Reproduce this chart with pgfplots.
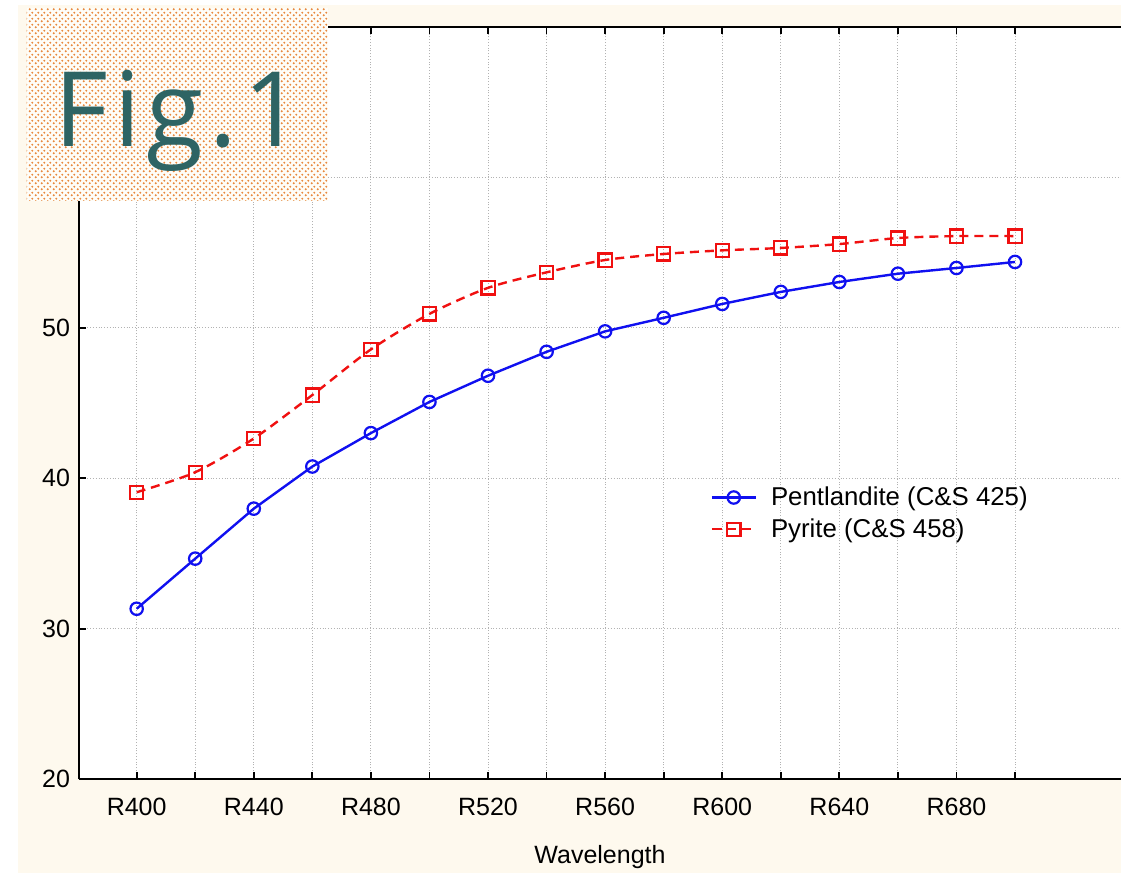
\documentclass[border=0pt]{standalone}
\usepackage{fontspec}
\setmainfont{Liberation Sans}
\newfontfamily\figfont{Open Sans}[LetterSpace=6]
\usepackage{pgfplots}
\pgfplotsset{compat=1.18}
\usetikzlibrary{patterns}

\definecolor{cream}{HTML}{FEF9EE}
\definecolor{dotorange}{HTML}{E8893E}
\definecolor{figteal}{HTML}{2E6464}
\definecolor{pblue}{HTML}{1010F0}
\definecolor{pred}{HTML}{F01010}

% staggered dots, a little larger than the built-in crosshatch dots
\pgfdeclarepatternformonly{bigdots}{\pgfpoint{-1pt}{-1pt}}{\pgfpoint{2pt}{2pt}}{\pgfpoint{3pt}{3pt}}{%
  \pgfpathcircle{\pgfpoint{0pt}{0pt}}{0.62pt}
  \pgfpathcircle{\pgfpoint{1.5pt}{1.5pt}}{0.62pt}
  \pgfusepath{fill}}

\begin{document}
\begin{tikzpicture}
  % page is 1121 x 873 px, 1px = 0.5pt
  \path[use as bounding box, fill=white] (0,0) rectangle (560.5pt,436.5pt);
  \fill[cream] (9pt,0) rectangle (560.5pt,434pt);

  \begin{axis}[
      at={(39.5pt,46.85pt)}, anchor=south west,
      scale only axis,
      width=521pt, height=376.3pt,
      axis background/.style={fill=white},
      xmin=-0.985, xmax=16.81,
      ymin=20, ymax=70,
      axis x line=box, axis y line=left,
      axis line style={-, line width=1pt, black},
      xtick={0,...,15},
      xticklabels={R400,,R440,,R480,,R520,,R560,,R600,,R640,,R680,},
      ytick={20,30,40,50,60,70},
      yticklabels={20,30,40,50,,},
      tick align=inside,
      major tick length=3.5pt,
      tick style={line width=0.9pt, black},
      grid=major,
      grid style={densely dotted, gray!60, line width=0.45pt},
      ticklabel style={font=\fontsize{12.5}{15}\selectfont},
      /pgf/number format/assume math mode=true,
      xticklabel style={yshift=-6pt},
      yticklabel style={xshift=-1pt},
      xlabel={Wavelength},
      xlabel style={font=\fontsize{12.5}{15}\selectfont, yshift=-8pt},
      legend style={at={(0.6,0.4)}, anchor=north west, draw=none, fill=none,
        font=\fontsize{12.9}{15}\selectfont, row sep=1pt, column sep=5pt},
      legend cell align=left,
      legend image code/.code={\draw[mark repeat=2,mark phase=2]
        plot coordinates {(0pt,0pt) (11pt,0pt) (22pt,0pt)};},
    ]
    \addplot[pblue, line width=1.2pt, mark=o, mark size=3.1pt,
      mark options={solid, fill=white, line width=1.1pt}]
      coordinates {
        (0,31.33) (1,34.66) (2,37.98) (3,40.78) (4,43.00) (5,45.07)
        (6,46.81) (7,48.40) (8,49.76) (9,50.66) (10,51.58) (11,52.38)
        (12,53.04) (13,53.59) (14,53.97) (15,54.37)
      };
    \addlegendentry{Pentlandite (C\&S 425)}
    \addplot[pred, line width=1.2pt, dash pattern=on 4.5pt off 3pt,
      smooth, tension=0.45, mark=square, mark size=3.3pt,
      mark options={solid, fill=white, line width=1.1pt}]
      coordinates {
        (0,39.07) (1,40.40) (2,42.64) (3,45.53) (4,48.56) (5,50.92)
        (6,52.65) (7,53.68) (8,54.50) (9,54.90) (10,55.14) (11,55.30)
        (12,55.56) (13,55.96) (14,56.09) (15,56.09)
      };
    \addlegendentry{Pyrite (C\&S 458)}
  \end{axis}

  % Fig.1 label box
  \fill[white!60!cream] (13.35pt,336pt) rectangle (164pt,432.3pt);
  \fill[pattern=bigdots, pattern color=dotorange]
    (13.35pt,336pt) rectangle (164pt,432.3pt);
  \node[anchor=base west, inner sep=0pt, text=figteal,
    font=\figfont\fontsize{52}{60}\selectfont] at (27pt,363.2pt) {Fig.1};
\end{tikzpicture}
\end{document}
